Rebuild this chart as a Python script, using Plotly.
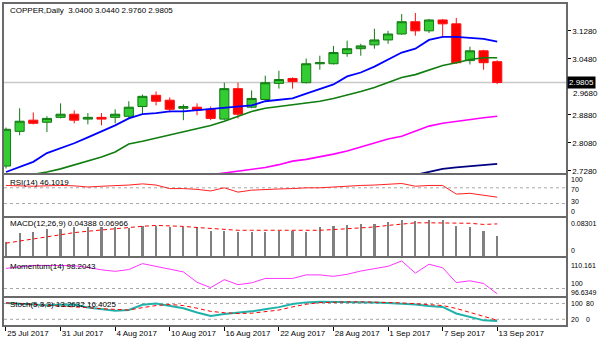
import plotly.graph_objects as go
from plotly.subplots import make_subplots

# ---------------- data ----------------
tick_idx = [0, 4, 8, 12, 16, 20, 24, 28, 32, 36]
tick_labels = ["25 Jul 2017", "31 Jul 2017", "4 Aug 2017", "10 Aug 2017", "16 Aug 2017",
               "22 Aug 2017", "28 Aug 2017", "1 Sep 2017", "7 Sep 2017", "13 Sep 2017"]

opens = [2.742, 2.841, 2.873, 2.867, 2.881, 2.890, 2.876, 2.881, 2.881, 2.884,
         2.912, 2.944, 2.930, 2.907, 2.910, 2.904, 2.876, 2.963, 2.910, 2.932,
         2.978, 2.992, 2.980, 3.034, 3.034, 3.063, 3.077, 3.088, 3.102, 3.119,
         3.154, 3.128, 3.159, 3.148, 3.043, 3.071, 3.040]
highs = [2.852, 2.907, 2.895, 2.884, 2.921, 2.901, 2.893, 2.893, 2.904, 2.927,
         2.946, 2.955, 2.938, 2.918, 2.921, 2.912, 2.980, 2.980, 2.958, 3.000,
         3.014, 2.995, 3.049, 3.057, 3.085, 3.100, 3.091, 3.134, 3.128, 3.176,
         3.179, 3.162, 3.162, 3.165, 3.083, 3.074, 3.044]
lows = [2.735, 2.830, 2.861, 2.839, 2.878, 2.864, 2.861, 2.858, 2.864, 2.876,
        2.890, 2.915, 2.895, 2.873, 2.887, 2.873, 2.873, 2.878, 2.907, 2.929,
        2.963, 2.963, 2.978, 3.017, 3.032, 3.054, 3.057, 3.077, 3.091, 3.117,
        3.114, 3.122, 3.111, 3.034, 3.032, 3.017, 2.976]
closes = [2.847, 2.870, 2.864, 2.878, 2.890, 2.873, 2.881, 2.876, 2.890, 2.910,
          2.941, 2.927, 2.904, 2.912, 2.901, 2.878, 2.963, 2.890, 2.935, 2.980,
          2.989, 2.983, 3.034, 3.037, 3.066, 3.077, 3.085, 3.102, 3.119, 3.154,
          3.128, 3.159, 3.148, 3.037, 3.071, 3.037, 2.9805]

ma_blue = [2.725, 2.739, 2.754, 2.779, 2.793, 2.807, 2.824, 2.841, 2.858, 2.878,
           2.890, 2.893, 2.898, 2.898, 2.901, 2.904, 2.907, 2.910, 2.915, 2.927,
           2.932, 2.935, 2.949, 2.961, 2.975, 2.998, 3.009, 3.026, 3.046, 3.066,
           3.077, 3.102, 3.111, 3.111, 3.108, 3.105, 3.097]
ma_green = [2.705, 2.711, 2.718, 2.725, 2.734, 2.745, 2.756, 2.768, 2.782, 2.805,
            2.813, 2.822, 2.833, 2.841, 2.850, 2.858, 2.870, 2.884, 2.898, 2.907,
            2.912, 2.918, 2.921, 2.927, 2.935, 2.944, 2.955, 2.966, 2.980, 2.995,
            3.003, 3.015, 3.029, 3.037, 3.046, 3.051, 3.051]
ma_magenta = [None] * 15 + [2.717, 2.722, 2.727, 2.731, 2.738, 2.746, 2.756, 2.761,
                            2.768, 2.776, 2.785, 2.796, 2.807, 2.819, 2.827, 2.841,
                            2.856, 2.864, 2.870, 2.876, 2.880, 2.884]
ma_navy = [None] * 29 + [2.708, 2.717, 2.724, 2.734, 2.738, 2.742, 2.745, 2.748]

rsi = [76, 75, 74, 75, 76, 75, 72, 74, 75, 77, 80, 77, 68, 68, 66, 62, 70, 59, 64,
       66, 67, 68, 70, 70, 72, 75, 76, 77, 79, 81, 74, 76, 76, 54, 56, 52, 46.1019]

macd_hist = [0.0318, 0.0512, 0.0540, 0.0595, 0.0595, 0.0629, 0.0629, 0.0643, 0.0629,
             0.0609, 0.0664, 0.0664, 0.0643, 0.0629, 0.0629, 0.0560, 0.0560, 0.0526,
             0.0526, 0.0540, 0.0560, 0.0560, 0.0540, 0.0629, 0.0664, 0.0678, 0.0699,
             0.0699, 0.0747, 0.0782, 0.0768, 0.0782, 0.0789, 0.0664, 0.0629, 0.0546,
             0.04388]
macd_signal = [0.0284, 0.0330, 0.0388, 0.0430, 0.0470, 0.0510, 0.0540, 0.0570, 0.0600,
               0.0629, 0.0645, 0.0664, 0.0655, 0.0643, 0.0620, 0.0595, 0.0580, 0.0560,
               0.0560, 0.0560, 0.0560, 0.0560, 0.0550, 0.0560, 0.0575, 0.0590, 0.0609,
               0.0630, 0.0664, 0.0690, 0.0720, 0.0720, 0.0720, 0.0712, 0.0710, 0.0685,
               0.06966]

momentum = [106.8, 107.3, 107.8, 107.8, 107.8, 107.7, 107.1, 106.3, 105.8, 106.4,
            108.4, 107.5, 106.7, 105.6, 102.1, 100.3, 103.0, 101.3, 101.9, 103.4,
            103.4, 103.4, 104.6, 104.6, 104.1, 104.8, 105.9, 106.6, 107.5, 109.3,
            105.2, 108.2, 107.0, 102.0, 102.6, 101.7, 98.2043]

stoch_main = [82, 79, 75, 73, 75, 76, 65, 58, 52, 55, 75, 80, 72, 62, 46, 33, 40, 44,
              50, 58, 66, 78, 84, 86, 86, 86, 86, 84, 82, 80, 76, 70, 67, 42, 28, 16,
              13.2632]
stoch_signal = [82, 79, 76, 74, 72, 67, 64, 60, 57, 55, 64, 72, 76, 72, 62, 50, 45, 42,
                43, 48, 55, 67, 77, 83, 85, 86, 86, 85, 84, 82, 79, 76, 72, 61, 46, 30,
                16.4025]

price_ticks = [2.728, 2.808, 2.888, 2.968, 3.048, 3.128]

idx = list(range(len(closes)))

# ---------------- layout helpers ----------------
W, H = 600, 343
T, B = 2, 325
L, R = 2, 566
PH = B - T
PW = R - L


def py(p):
    return (B - p) / PH


def px(p):
    return (p - L) / PW


def dom(top, bot):
    return [py(bot), py(top)]


FONT = "Liberation Sans"
FS = 8

fig = make_subplots(rows=5, cols=1, shared_xaxes=False, vertical_spacing=0.0)

fig.add_trace(go.Candlestick(
    x=idx, open=opens, high=highs, low=lows, close=closes,
    increasing=dict(line=dict(color="#137a13", width=1), fillcolor="#33cc33"),
    decreasing=dict(line=dict(color="#ff1010", width=1), fillcolor="#ff0000"),
    showlegend=False, hoverinfo="skip"), row=1, col=1)

fig.add_trace(go.Scatter(x=idx, y=ma_blue, mode="lines",
                         line=dict(color="#0000ff", width=1.8), showlegend=False), row=1, col=1)
fig.add_trace(go.Scatter(x=idx, y=ma_green, mode="lines",
                         line=dict(color="#0f7d0f", width=1.6), showlegend=False), row=1, col=1)
fig.add_trace(go.Scatter(x=idx, y=ma_magenta, mode="lines",
                         line=dict(color="#ff00ff", width=1.6), showlegend=False), row=1, col=1)
fig.add_trace(go.Scatter(x=idx, y=ma_navy, mode="lines",
                         line=dict(color="#000080", width=1.8), showlegend=False), row=1, col=1)

fig.add_trace(go.Scatter(x=idx, y=rsi, mode="lines",
                         line=dict(color="#ff2020", width=1), showlegend=False), row=2, col=1)

fig.add_trace(go.Bar(x=idx, y=macd_hist, width=0.16, marker=dict(color="#808080", line=dict(width=0)),
                     showlegend=False), row=3, col=1)
fig.add_trace(go.Scatter(x=idx, y=macd_signal, mode="lines",
                         line=dict(color="#ff0000", width=1, dash="4px,3px"), showlegend=False), row=3, col=1)

fig.add_trace(go.Scatter(x=idx, y=momentum, mode="lines",
                         line=dict(color="#ff33ff", width=1), showlegend=False), row=4, col=1)

fig.add_trace(go.Scatter(x=idx, y=stoch_main, mode="lines",
                         line=dict(color="#20b2aa", width=2), showlegend=False), row=5, col=1)
fig.add_trace(go.Scatter(x=idx, y=stoch_signal, mode="lines",
                         line=dict(color="#ff0000", width=1, dash="4px,3px"), showlegend=False), row=5, col=1)

# reference levels
lvl = dict(color="#a8a8a8", width=1, dash="3px,3px")
fig.add_hline(y=70, line=lvl, row=2, col=1, layer="below")
fig.add_hline(y=30, line=lvl, row=2, col=1, layer="below")
fig.add_hline(y=100, line=lvl, row=4, col=1, layer="below")
fig.add_hline(y=80, line=lvl, row=5, col=1, layer="below")
fig.add_hline(y=20, line=lvl, row=5, col=1, layer="below")
fig.add_hline(y=closes[-1], line=dict(color="#c8c8c8", width=1.5), row=1, col=1, layer="below")

x_range = [-2 / 13.694, (R - 4) / 13.694]
border = dict(showline=True, mirror=True, linecolor="#6a6a6a", linewidth=1.5,
              showgrid=False, zeroline=False)

for i in range(1, 6):
    fig.update_xaxes(range=x_range, showticklabels=False, ticks="", **border, row=i, col=1)
fig.update_xaxes(rangeslider_visible=False)
fig.update_xaxes(showticklabels=True, tickmode="array", tickvals=tick_idx, ticktext=tick_labels,
                 ticks="outside", ticklen=4, tickcolor="#000000", ticklabelposition="outside right",
                 tickfont=dict(family=FONT, size=FS, color="#000000"), row=5, col=1)

# 2.9680 sits under the current-price box, its text is placed just below it
tick_text = ["" if abs(v - 2.968) < 1e-9 else "%.4f" % v for v in price_ticks]
fig.update_yaxes(domain=dom(2, 172.5), range=[2.7209, 3.2046], side="right",
                 tickmode="array", tickvals=price_ticks, ticktext=tick_text,
                 ticks="outside", ticklen=3, tickcolor="#000000",
                 tickfont=dict(family=FONT, size=FS, color="#000000"), **border, row=1, col=1)
fig.update_yaxes(domain=dom(174.5, 215), range=[-1, 101.5], showticklabels=False, ticks="",
                 side="right", **border, row=2, col=1)
fig.update_yaxes(domain=dom(217, 256), range=[0, 0.08301], showticklabels=False, ticks="",
                 side="right", **border, row=3, col=1)
fig.update_yaxes(domain=dom(258, 295.5), range=[97.58, 110.16], showticklabels=False, ticks="",
                 side="right", **border, row=4, col=1)
fig.update_yaxes(domain=dom(297.5, 325), range=[-1.5, 101.8], showticklabels=False, ticks="",
                 side="right", **border, row=5, col=1)

anns = []


def label(text, x_px, y_px, anchor="left", color="#000000", size=FS, **kw):
    anns.append(dict(text=text, x=px(x_px), y=py(y_px), xref="paper", yref="paper",
                     xanchor=anchor, yanchor="middle", showarrow=False,
                     font=dict(family=FONT, size=size, color=color), **kw))


label("COPPER,Daily\u00a0\u00a03.0400 3.0440 2.9760 2.9805", 6, 9)
label("RSI(14) 46.1019", 6, 181.5)
label("MACD(12,26,9) 0.04388 0.06966", 6, 223)
label("Momentum(14) 98.2043", 6, 266.5)
label("Stoch(5,3,3) 13.2632 16.4025", 6, 304)

label("2.9680", 571, 92.5)

# right-hand sub-window scale labels (spread so they do not collide)
SS = 7
for t, x, y in [("100", 569, 178.5), ("70", 569, 188.5), ("30", 569, 200.5), ("0", 569, 210.5),
                ("0.08301", 569, 222.7), ("0", 569, 250.5),
                ("110.161", 569, 265), ("100", 569, 283.5), ("96.6349", 569, 292.5),
                ("100", 569, 303), ("80", 584, 303), ("20", 569, 319.3), ("0", 584, 319.3)]:
    label(t, x, y, size=SS)

anns.append(dict(text="2.9805", x=1, xref="paper", y=closes[-1], yref="y",
                 xanchor="left", yanchor="middle", xshift=1, showarrow=False,
                 bgcolor="#000000", borderpad=1,
                 font=dict(family=FONT, size=FS, color="#ffffff")))

fig.update_layout(
    width=W, height=H,
    margin=dict(l=L, r=W - R, t=T, b=H - B),
    paper_bgcolor="#ffffff", plot_bgcolor="#ffffff",
    boxmode="overlay", boxgap=0.33, boxgroupgap=0,
    bargap=0, showlegend=False,
    annotations=anns,
    hovermode=False,
)

fig.write_html("out.html")
